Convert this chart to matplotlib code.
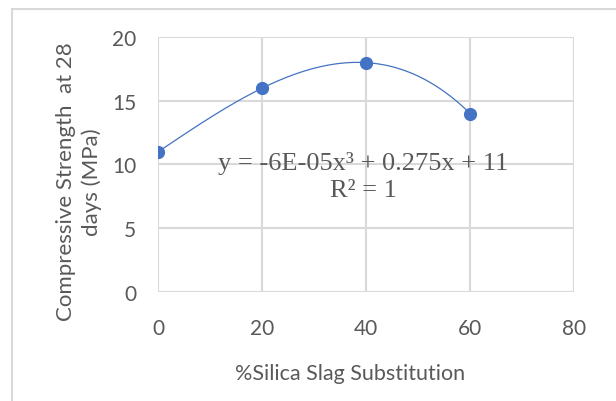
import matplotlib
matplotlib.use('Agg')
import matplotlib.pyplot as plt
import matplotlib.patches as mpatches
import numpy as np

plt.rcParams['font.family'] = ['Lato', 'DejaVu Sans']

slag = [0, 20, 40, 60]
strength = [11, 16, 18, 14]
xticks = [0, 20, 40, 60, 80]
yticks = [0, 5, 10, 15, 20]
equation = 'y = -6E-05x³ + 0.275x + 11\nR² = 1'

blue = '#4472C4'
grid = '#d9d9d9'
txt = '#595959'

fig = plt.figure(figsize=[6.16, 4.02], dpi=100)
ax = fig.add_axes([0.257, 0.272, 0.675, 0.633])

# outer chart border
fig.patches.append(mpatches.Rectangle((12 / 616, -0.05), 1.2, 1 - 10 / 402 + 0.05,
                                      transform=fig.transFigure, fill=False,
                                      edgecolor=grid, linewidth=1.5))

# cubic trendline through the points
coef = np.polyfit(slag, strength, 3)
xs = np.linspace(slag[0], slag[-1], 200)
ax.plot(xs, np.polyval(coef, xs), color=blue, linewidth=0.9, zorder=3)
ax.plot(slag, strength, 'o', color=blue, markersize=8.5, zorder=4)

ax.set_xlim(0, 80)
ax.set_ylim(0, 20)
ax.set_xticks(xticks)
ax.set_yticks(yticks)
ax.grid(True, color=grid, linewidth=1.5)
ax.set_axisbelow(True)
for s in ax.spines.values():
    s.set_visible(False)
ax.tick_params(length=0, labelsize=15, labelcolor=txt)
ax.tick_params(axis='x', pad=19)
ax.tick_params(axis='y', pad=16)

ax.set_xlabel('%Silica Slag Substitution', fontsize=15.5, color=txt)
ax.xaxis.set_label_coords(0.462, -0.279)
ax.set_ylabel('Compressive Strength  at 28\ndays (MPa)', fontsize=16, color=txt,
              linespacing=1.35)
ax.yaxis.set_label_coords(-0.135, 0.435)

ax.text(39.5, 9.06, equation, ha='center', va='center', multialignment='center',
        fontsize=19, color=txt, family='Liberation Serif', linespacing=1.3, zorder=5)

fig.savefig('out.png', dpi=100)
